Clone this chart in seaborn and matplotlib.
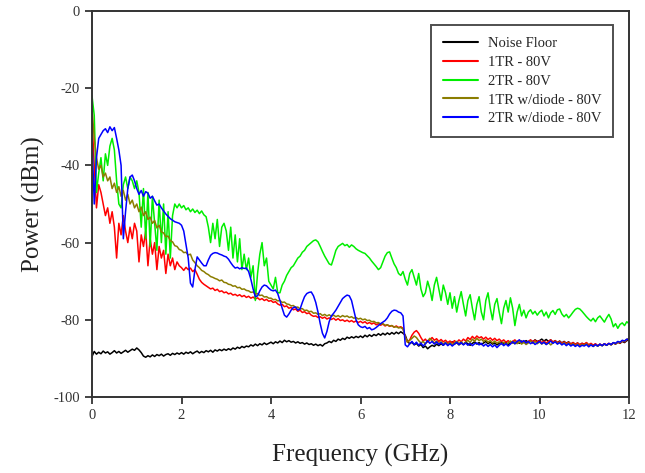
import numpy as np
import pandas as pd
import matplotlib
matplotlib.use("Agg")
import matplotlib.pyplot as plt
import seaborn as sns

# Frequency sweep (GHz), 0.05 GHz spacing
freq = np.round(np.arange(0, 241) * 0.05, 2)

noise_floor = [
    -89.5, -88.2, -88.9, -88.4, -88.8, -88.1, -88.6, -88.3, -88.9, -88.5, -88.0, -88.6, -88.2, -88.7, -88.3, -87.9, -88.4, -88.0, -87.6, -87.9,
    -87.3, -87.8, -88.5, -89.4, -89.7, -89.3, -89.6, -89.1, -89.5, -89.0, -89.3, -88.9, -89.4, -89.0, -88.8, -89.2, -88.7, -89.0, -88.6, -88.9,
    -88.5, -88.9, -88.4, -88.7, -88.3, -88.8, -88.4, -88.1, -88.6, -88.2, -88.5, -88.0, -88.3, -87.9, -88.4, -87.8, -88.1, -87.7, -88.0, -87.6,
    -87.9, -87.5, -87.8, -87.3, -87.6, -87.1, -87.4, -86.9, -87.2, -86.8, -87.0, -86.5, -86.8, -86.3, -86.7, -86.2, -86.5, -86.0, -86.4, -86.1,
    -85.8, -86.2, -85.7, -86.0, -85.5, -85.9, -85.3, -85.7, -85.4, -85.8, -85.6, -86.0, -85.7, -86.1, -85.9, -86.3, -86.0, -86.4, -86.2, -86.6,
    -86.3, -86.7, -86.4, -86.8, -86.2, -86.0, -85.6, -85.9, -85.3, -85.6, -85.0, -85.3, -84.8, -85.1, -84.5, -84.8, -84.4, -84.7, -84.3, -84.6,
    -84.2, -84.6, -84.0, -84.4, -83.9, -84.3, -83.8, -84.1, -83.6, -84.0, -83.5, -83.9, -83.4, -83.8, -83.3, -83.7, -83.2, -83.6, -83.1, -83.5,
    -84.0, -85.6, -86.2, -85.8, -86.5, -86.1, -86.8, -86.4, -87.2, -86.8, -87.5, -87.0, -86.6, -86.9, -86.3, -86.7, -86.2, -86.6, -86.0, -86.4,
    -86.1, -85.7, -86.3, -85.9, -86.5, -86.0, -86.4, -85.8, -86.2, -86.6, -86.1, -85.7, -86.3, -85.9, -86.4, -86.0, -85.6, -86.2, -85.8, -86.3,
    -86.0, -86.5, -86.1, -85.7, -86.3, -85.8, -86.4, -86.0, -85.6, -86.2, -85.7, -86.1, -85.5, -85.9, -85.4, -85.8, -85.3, -85.7, -85.2, -85.6,
    -85.4, -85.0, -85.5, -85.1, -85.6, -85.2, -85.8, -85.4, -85.9, -85.5, -86.0, -85.6, -86.1, -85.7, -86.3, -85.9, -86.4, -86.0, -86.5, -86.1,
    -86.4, -86.0, -86.6, -86.2, -86.7, -86.3, -86.8, -86.4, -86.7, -86.3, -86.6, -86.2, -86.5, -86.0, -86.3, -85.8, -86.1, -85.6, -85.9, -85.4, -85.2,
]

tr1_80v = [
    -28, -40, -51, -45, -47, -50, -53, -51, -55, -52, -56, -64, -55, -58, -53, -57, -60, -56, -59, -55,
    -57, -65, -58, -61, -57, -66, -59, -63, -60, -67, -61, -64, -62, -68, -63, -66, -64, -67, -65, -66,
    -66.5, -67.2, -66.4, -67.0, -66.6, -67.5, -67.0, -68.2, -69.5, -70.3, -70.8, -71.2, -71.6, -72.0, -71.8, -72.4, -72.1, -72.7, -72.5, -73.0,
    -72.8, -73.3, -73.1, -73.6, -73.4, -73.8, -73.5, -74.0, -73.7, -74.2, -73.9, -74.4, -74.1, -74.6, -74.3, -74.8, -74.5, -75.0, -74.7, -75.2,
    -75.0, -75.5, -75.3, -75.9, -76.2, -76.0, -76.6, -76.4, -77.0, -76.8, -77.4, -77.2, -77.8, -77.5, -78.1, -77.9, -78.4, -78.2, -78.8, -79.1,
    -79.0, -79.4, -79.2, -79.6, -79.3, -79.8, -79.5, -79.9, -79.6, -80.1, -79.7, -80.2, -80.0, -80.4, -80.1, -80.5, -80.2, -80.6, -80.3, -80.7,
    -80.4, -80.8, -80.5, -81.0, -80.7, -81.1, -80.8, -81.3, -81.0, -81.4, -81.1, -81.6, -81.3, -81.7, -81.5, -81.9, -81.6, -82.0, -81.8, -82.2,
    -84.5, -85.8, -85.2, -84.0, -83.2, -82.8, -83.5, -84.6, -85.5, -85.0, -85.8, -85.2, -84.6, -85.3, -84.9, -85.6, -85.1, -85.7, -85.3, -85.9,
    -85.5, -86.0, -85.4, -85.9, -85.2, -85.7, -85.0, -85.5, -84.6, -85.1, -84.3, -84.9, -84.2, -84.7, -84.4, -85.0, -84.5, -85.1, -84.7, -85.3,
    -84.8, -85.4, -85.0, -85.6, -85.2, -85.8, -85.4, -86.0, -85.6, -85.2, -85.8, -85.3, -85.9, -85.5, -86.0, -85.6, -85.2, -85.7, -85.3, -85.8,
    -85.4, -85.9, -85.5, -86.0, -85.6, -85.2, -85.8, -85.4, -86.0, -85.6, -86.1, -85.7, -86.2, -85.8, -86.3, -85.9, -86.4, -86.0, -86.5, -86.1,
    -86.3, -85.9, -86.5, -86.1, -86.6, -86.2, -86.7, -86.3, -86.6, -86.2, -86.5, -86.1, -86.4, -86.0, -86.2, -85.8, -86.0, -85.5, -85.7, -85.2, -84.8,
]

tr2_80v = [
    -22, -27, -47, -42, -38, -44, -37, -40, -35, -33, -36, -44, -50, -51, -45, -43, -46, -43, -44, -46,
    -44, -47, -56, -46, -59, -47, -61, -48, -55, -62, -49, -60, -50, -63, -52, -64, -53, -50, -51, -50,
    -51.0, -50.4, -51.5, -51.0, -52.0, -51.3, -52.2, -51.6, -52.5, -51.8, -52.8, -53.3, -56, -60, -55, -59, -54, -61, -56, -55,
    -57, -62, -56, -64, -58, -65, -59, -67, -63, -67, -64, -69, -66, -75, -68, -63, -60, -66, -64, -70,
    -71, -72, -69, -73, -73, -71, -70, -68.5, -67.5, -66.5, -66, -65, -64, -63.5, -62.5, -62, -61, -60.5, -60, -59.5,
    -59.3, -59.8, -61, -62.3, -63.5, -64.5, -65.5, -65.8, -64, -62, -61, -60.6, -60.2, -60.8, -60.5, -61.2, -60.6, -61.0, -61.6, -62.0,
    -62.3, -62.6, -62.8, -63.4, -64.0, -64.8, -65.5, -66.2, -67.0, -66.5, -65.0, -63.5, -62.6, -62.4, -64.0, -65.5, -66.5, -68.0, -68.5, -67.5,
    -69.5, -71, -68, -67, -69, -71, -68, -72, -74, -73, -70, -72, -75, -71, -69, -72, -75, -71, -73, -76,
    -73, -77, -74, -78, -75, -72.7, -76, -79, -75, -73.5, -77, -80, -76, -74, -78, -80, -75, -73, -77, -80,
    -76, -74.5, -78, -81, -77, -75, -78, -74.3, -77, -81.5, -78, -76, -79, -77.5, -79.5, -78, -77.4, -78.5, -77.8, -78.8,
    -78, -77.5, -79, -78, -79.5, -78.2, -77.6, -78.6, -77.4, -77.2, -78.5, -79.2, -78.6, -79.5, -78.8, -78.0, -77.3, -77.0, -77.2, -77.8,
    -78.5, -79.2, -79.8, -80.3, -79.6, -80.5, -79.5, -79.0, -79.8, -80.6, -79.5, -78.6, -79.8, -81.8, -81.0, -82.2, -81.2, -80.8, -81.5, -80.5, -81.0,
]

tr1_diode_80v = [
    -25, -33, -38, -41, -40, -43, -42, -44, -43, -46, -44.6, -47, -45.5, -48, -46.5, -49, -47.5, -50, -49, -51,
    -50, -52, -50.8, -53, -52, -54, -53.4, -55, -54.3, -56.2, -55.5, -57.2, -57.5, -58.5, -58.3, -59.5, -59.8, -60.8, -61.0, -61.8,
    -62, -62.6, -62.5, -63.2, -63.0, -64.5, -65.2, -66.0, -66.5, -67.2, -67.5, -68.0, -68.3, -68.8, -69.0, -69.3, -69.5, -69.9, -69.7, -70.3,
    -70.4, -70.8, -70.9, -71.3, -71.2, -71.7, -71.6, -72.1, -72.0, -72.4, -72.5, -72.9, -72.8, -73.3, -73.2, -73.7, -73.6, -74.1, -74.0, -74.4,
    -74.4, -74.8, -74.7, -75.1, -75.0, -75.5, -75.4, -75.9, -76.0, -76.4, -76.3, -76.8, -76.7, -77.2, -77.1, -77.6, -77.5, -77.9, -77.8, -78.3,
    -78.2, -78.6, -78.4, -78.9, -78.6, -79.0, -78.7, -79.1, -78.8, -79.2, -78.9, -79.3, -78.9, -79.2, -79.0, -79.4, -79.2, -79.6, -79.4, -79.8,
    -79.6, -80.0, -79.8, -80.2, -80.1, -80.5, -80.4, -80.8, -80.7, -81.1, -81.0, -81.4, -81.3, -81.6, -81.5, -81.9, -81.8, -82.1, -82.0, -82.4,
    -84.5, -85.8, -85.3, -84.8, -84.2, -84.6, -85.4, -86.0, -85.6, -86.3, -85.5, -84.8, -85.4, -86.0, -85.5, -86.2, -85.7, -86.3, -85.8, -86.4,
    -85.9, -86.5, -86.0, -85.6, -86.2, -85.7, -86.3, -85.8, -85.3, -85.9, -85.0, -85.6, -84.8, -85.4, -85.0, -85.6, -85.2, -85.8, -85.4, -86.0,
    -85.5, -86.1, -85.7, -86.3, -85.8, -86.4, -86.0, -85.5, -86.1, -85.6, -86.2, -85.7, -86.3, -85.8, -86.4, -86.0, -85.5, -86.1, -85.6, -86.2,
    -85.7, -86.3, -85.8, -86.4, -85.9, -86.5, -86.0, -85.6, -86.2, -85.8, -86.4, -85.9, -86.5, -86.0, -86.6, -86.2, -86.7, -86.3, -86.8, -86.4,
    -86.6, -86.2, -86.8, -86.4, -86.9, -86.5, -86.8, -86.4, -86.7, -86.3, -86.6, -86.2, -86.4, -86.0, -86.2, -85.7, -85.9, -85.4, -85.6, -85.1, -84.9,
]

tr2_diode_80v = [
    -33, -50, -38, -33, -32, -31, -30.5, -31.5, -30, -31, -30.2, -33, -36, -40, -59, -52, -46, -43, -42.5, -44,
    -46, -47.5, -46.5, -48, -46.8, -47.2, -48.5, -48, -49.2, -50.3, -50, -51, -51.8, -52.6, -53.2, -53.8, -54.2, -54.6, -54.8, -55.0,
    -55.5, -57, -60.5, -64, -70.5, -71.5, -67, -63.7, -64.5, -65.3, -66, -66, -64.5, -63.3, -62.8, -62.6, -62.7, -63.0, -63.2, -63.5,
    -63.7, -64.3, -65.2, -66.0, -66.6, -66.4, -66.8, -66.5, -66.7, -66.6, -67.5, -69.5, -72, -74, -73.8, -72.5, -71.5, -71, -71.2, -71.8,
    -72.3, -72.5, -72.3, -73.2, -75, -77, -78.8, -79.3, -78.5, -77.5, -76.8, -76.7, -77.5, -77.2, -75.5, -74, -73.2, -72.9, -72.8, -73.8,
    -75.5, -78, -81, -83.5, -84.7, -83, -80.5, -79, -78.3, -77.5, -76.5, -75.5, -74.5, -74, -73.6, -73.8, -75, -77.5, -80, -81.3,
    -81.8, -82.0, -81.7, -82.3, -82.0, -82.6, -82.4, -82.0, -81.5, -81.0, -80.6, -80.2, -79.5, -78.5, -77.8, -77.5, -77.6, -78.0, -78.2, -79.0,
    -86.5, -87.0, -86.2, -85.6, -86.4, -85.8, -86.6, -86.0, -86.8, -86.2, -85.4, -86.1, -85.6, -86.3, -85.7, -86.4, -85.9, -86.6, -86.0, -86.7,
    -86.2, -86.8, -86.3, -85.8, -86.4, -85.9, -86.5, -86.0, -86.6, -86.1, -86.7, -86.2, -86.0, -86.5, -86.1, -86.8, -86.3, -86.9, -86.4, -87.0,
    -86.5, -87.2, -86.6, -86.1, -86.7, -86.2, -86.8, -86.3, -85.7, -86.2, -85.6, -85.2, -85.8, -85.4, -86.0, -85.6, -86.2, -85.8, -86.4, -86.0,
    -85.6, -86.2, -85.8, -86.4, -86.0, -85.5, -86.1, -85.7, -86.3, -85.9, -86.5, -86.1, -86.7, -86.2, -86.8, -86.4, -86.9, -86.5, -87.0, -86.6,
    -86.8, -86.4, -87.0, -86.5, -86.9, -86.4, -86.8, -86.3, -86.7, -86.2, -86.6, -86.1, -86.4, -85.9, -86.1, -85.6, -85.8, -85.3, -85.5, -85.0, -85.2,
]

series_names = ["Noise Floor", "1TR - 80V", "2TR - 80V", "1TR w/diode - 80V", "2TR w/diode - 80V"]
series_values = [noise_floor, tr1_80v, tr2_80v, tr1_diode_80v, tr2_diode_80v]
series_colors = ["#000000", "#ff0000", "#00ee00", "#8b7d00", "#0000ff"]

x_ticks = [0, 2, 4, 6, 8, 10, 12]
y_ticks = [0, -20, -40, -60, -80, -100]

frames = []
for name, vals in zip(series_names, series_values):
    frames.append(pd.DataFrame({"Frequency": freq, "Power": vals, "Series": name}))
df = pd.concat(frames, ignore_index=True)

sns.set_style("ticks")
plt.rcParams["font.family"] = ["Liberation Serif", "DejaVu Serif"]
plt.rcParams["axes.unicode_minus"] = False

fig = plt.figure(figsize=(6.45, 4.73), dpi=100)
ax = fig.add_axes([92 / 645, 1 - 397 / 473, (629 - 92) / 645, (397 - 11) / 473])

sns.lineplot(data=df, x="Frequency", y="Power", hue="Series", hue_order=series_names,
             palette=dict(zip(series_names, series_colors)), linewidth=1.1,
             estimator=None, sort=False, ax=ax)

ax.set_xlim(0, 12)
ax.set_ylim(-100, 0)
ax.set_xticks(x_ticks)
ax.set_yticks(y_ticks)
ax.set_xticklabels([str(t) for t in x_ticks])
ax.set_yticklabels([str(t) for t in y_ticks])
ax.tick_params(axis="both", direction="out", length=5, width=1.2, labelsize=10.5,
               top=False, right=False, colors="#222222", labelcolor="#333333")
for s in ax.spines.values():
    s.set_linewidth(1.4)
    s.set_color("#333333")
    s.set_visible(True)

ax.set_xlabel("Frequency (GHz)", fontsize=18, color="#222222", labelpad=16)
ax.set_ylabel("Power (dBm)", fontsize=18, color="#222222", labelpad=6)

handles, labels = ax.get_legend_handles_labels()
leg = ax.legend(handles, labels, loc="upper right", bbox_to_anchor=(1 - 16 / 537, 1 - 14 / 386),
                frameon=True, fancybox=False, edgecolor="#222222", fontsize=10.5,
                handlelength=2.4, labelspacing=0.39, borderpad=0.8, handletextpad=0.7,
                borderaxespad=0.0)
leg.get_frame().set_linewidth(1.4)
for line in leg.get_lines():
    line.set_linewidth(1.5)

fig.savefig("out.png", dpi=100)
